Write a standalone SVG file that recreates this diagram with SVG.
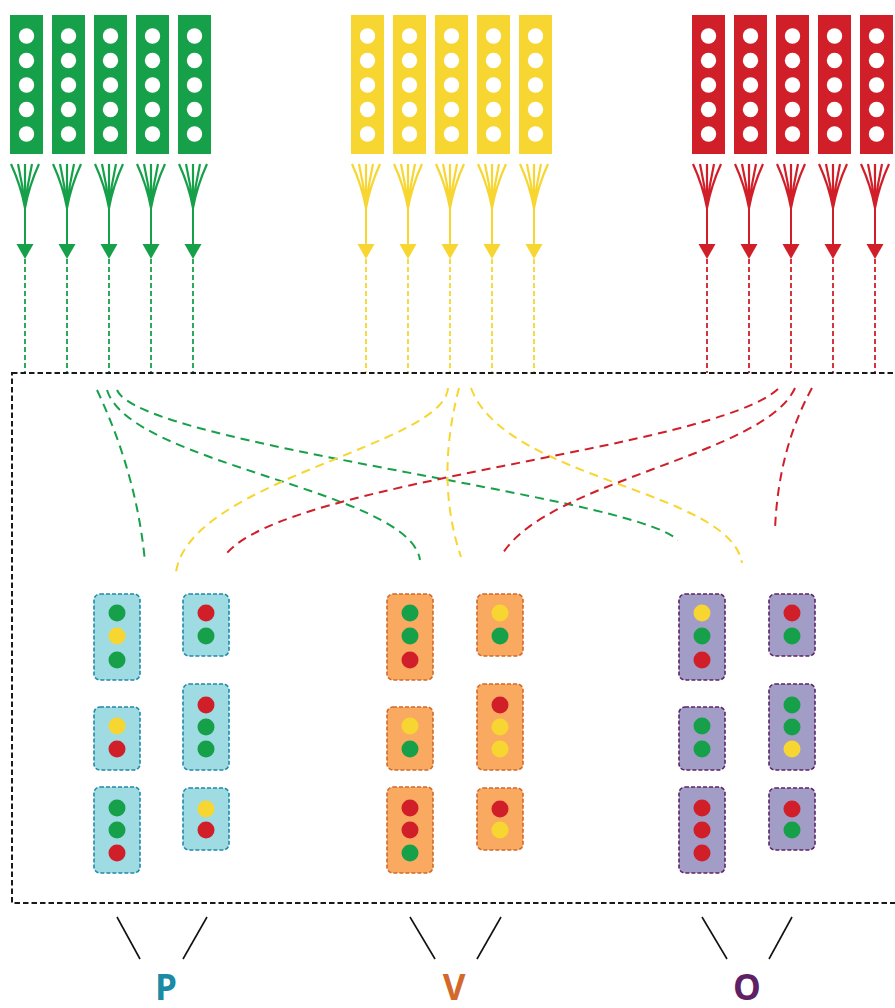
<svg xmlns="http://www.w3.org/2000/svg" xmlns:xlink="http://www.w3.org/1999/xlink" width="895" height="1008" viewBox="0 0 895 1008">
<style>
.colbody{fill:currentColor}
.hole{fill:#ffffff}
.fan{fill:none;stroke:currentColor;stroke-width:2.2}
.stem{stroke:currentColor;stroke-width:2}
.head{fill:currentColor}
.drop{stroke:currentColor;stroke-width:1.8;stroke-dasharray:5 3}
.g{color:#17a04a}
.y{color:#f7d631}
.r{color:#d11f2a}
.box{fill:none;stroke:#1a1a1a;stroke-width:2;stroke-dasharray:5.5 3}
.cv{fill:none;stroke-width:2;stroke-dasharray:9 6}
.cg{stroke:#17a04a}
.cy{stroke:#f7d631}
.cr{stroke:#d11f2a}
.nP{fill:#9edbe2;stroke:#1f8aa8;stroke-width:1.6;stroke-dasharray:4 2}
.nV{fill:#f9a960;stroke:#d2692a;stroke-width:1.6;stroke-dasharray:4 2}
.nO{fill:#a19dc6;stroke:#5c2468;stroke-width:1.6;stroke-dasharray:4 2}
.dg{fill:#17a04a}
.dy{fill:#f7d631}
.dr{fill:#d11f2a}
.tick{stroke:#111111;stroke-width:1.6}
.lbl{font-family:"Open Sans","Liberation Sans",sans-serif;font-weight:bold;font-size:35px;text-anchor:middle}
</style>
<defs>
<g id="col">
<rect class="colbody" x="-15" y="15" width="33" height="139"/>
<circle class="hole" cx="1.5" cy="36" r="7.7"/>
<circle class="hole" cx="1.5" cy="60.5" r="7.7"/>
<circle class="hole" cx="1.5" cy="85" r="7.7"/>
<circle class="hole" cx="1.5" cy="109.5" r="7.7"/>
<circle class="hole" cx="1.5" cy="134" r="7.7"/>
<path class="fan" d="M-14 164 Q-4 186 0 208 M-7 164 Q-2 186 0 208 M0 164 L0 208 M7 164 Q2 186 0 208 M14 164 Q4 186 0 208"/>
<line class="stem" x1="0" y1="206" x2="0" y2="247"/>
<polygon class="head" points="-8.5,244 8.5,244 0,259"/>
<line class="drop" x1="0" y1="259" x2="0" y2="373"/>
</g>
</defs>

<g id="sources">
<g id="g1" class="g"><use xlink:href="#col" x="25"/></g>
<g id="g2" class="g"><use xlink:href="#col" x="67"/></g>
<g id="g3" class="g"><use xlink:href="#col" x="109"/></g>
<g id="g4" class="g"><use xlink:href="#col" x="151"/></g>
<g id="g5" class="g"><use xlink:href="#col" x="193"/></g>
<g id="y1" class="y"><use xlink:href="#col" x="366"/></g>
<g id="y2" class="y"><use xlink:href="#col" x="408"/></g>
<g id="y3" class="y"><use xlink:href="#col" x="450"/></g>
<g id="y4" class="y"><use xlink:href="#col" x="492"/></g>
<g id="y5" class="y"><use xlink:href="#col" x="534"/></g>
<g id="r1" class="r"><use xlink:href="#col" x="707"/></g>
<g id="r2" class="r"><use xlink:href="#col" x="749"/></g>
<g id="r3" class="r"><use xlink:href="#col" x="791"/></g>
<g id="r4" class="r"><use xlink:href="#col" x="833"/></g>
<g id="r5" class="r"><use xlink:href="#col" x="875"/></g>
</g>

<g id="container">
<rect class="box" x="12" y="373" width="895" height="530"/>
</g>

<g id="connectors">
<path class="cv cg" d="M97 390 Q137 475 145 562"/>
<path class="cv cg" d="M107 390 C130 465 410 490 420 560"/>
<path class="cv cg" d="M117 390 C140 445 630 495 678 540"/>
<path class="cv cy" d="M448 388 C445 445 190 480 176 572"/>
<path class="cv cy" d="M459 388 Q435 480 461 557"/>
<path class="cv cy" d="M471 388 C505 480 730 490 742 563"/>
<path class="cv cr" d="M778 389 C710 450 290 480 227 553"/>
<path class="cv cr" d="M795 388 C765 455 550 480 503 553"/>
<path class="cv cr" d="M812 388 Q778 450 775 530"/>
</g>

<g id="P1"><rect class="nP" x="94" y="594" width="46" height="86" rx="6"/><circle class="dg" cx="117" cy="613" r="8.5"/><circle class="dy" cx="117" cy="636" r="8.5"/><circle class="dg" cx="117" cy="660" r="8.5"/></g>
<g id="P2"><rect class="nP" x="183" y="594" width="46" height="62" rx="6"/><circle class="dr" cx="206" cy="613" r="8.5"/><circle class="dg" cx="206" cy="636" r="8.5"/></g>
<g id="P3"><rect class="nP" x="94" y="707" width="46" height="63" rx="6"/><circle class="dy" cx="117" cy="726" r="8.5"/><circle class="dr" cx="117" cy="749" r="8.5"/></g>
<g id="P4"><rect class="nP" x="183" y="684" width="46" height="86" rx="6"/><circle class="dr" cx="206" cy="705" r="8.5"/><circle class="dg" cx="206" cy="727" r="8.5"/><circle class="dg" cx="206" cy="749" r="8.5"/></g>
<g id="P5"><rect class="nP" x="94" y="787" width="46" height="86" rx="6"/><circle class="dg" cx="117" cy="808" r="8.5"/><circle class="dg" cx="117" cy="830" r="8.5"/><circle class="dr" cx="117" cy="853" r="8.5"/></g>
<g id="P6"><rect class="nP" x="183" y="788" width="46" height="62" rx="6"/><circle class="dy" cx="206" cy="809" r="8.5"/><circle class="dr" cx="206" cy="830" r="8.5"/></g>

<g id="V1"><rect class="nV" x="387" y="594" width="46" height="86" rx="6"/><circle class="dg" cx="410" cy="613" r="8.5"/><circle class="dg" cx="410" cy="636" r="8.5"/><circle class="dr" cx="410" cy="660" r="8.5"/></g>
<g id="V2"><rect class="nV" x="477" y="594" width="46" height="62" rx="6"/><circle class="dy" cx="500" cy="613" r="8.5"/><circle class="dg" cx="500" cy="636" r="8.5"/></g>
<g id="V3"><rect class="nV" x="387" y="707" width="46" height="63" rx="6"/><circle class="dy" cx="410" cy="726" r="8.5"/><circle class="dg" cx="410" cy="749" r="8.5"/></g>
<g id="V4"><rect class="nV" x="477" y="684" width="46" height="86" rx="6"/><circle class="dr" cx="500" cy="705" r="8.5"/><circle class="dy" cx="500" cy="727" r="8.5"/><circle class="dy" cx="500" cy="749" r="8.5"/></g>
<g id="V5"><rect class="nV" x="387" y="787" width="46" height="86" rx="6"/><circle class="dr" cx="410" cy="808" r="8.5"/><circle class="dr" cx="410" cy="830" r="8.5"/><circle class="dg" cx="410" cy="853" r="8.5"/></g>
<g id="V6"><rect class="nV" x="477" y="788" width="46" height="62" rx="6"/><circle class="dr" cx="500" cy="809" r="8.5"/><circle class="dy" cx="500" cy="830" r="8.5"/></g>

<g id="O1"><rect class="nO" x="679" y="594" width="46" height="86" rx="6"/><circle class="dy" cx="702" cy="613" r="8.5"/><circle class="dg" cx="702" cy="636" r="8.5"/><circle class="dr" cx="702" cy="660" r="8.5"/></g>
<g id="O2"><rect class="nO" x="769" y="594" width="46" height="62" rx="6"/><circle class="dr" cx="792" cy="613" r="8.5"/><circle class="dg" cx="792" cy="636" r="8.5"/></g>
<g id="O3"><rect class="nO" x="679" y="707" width="46" height="63" rx="6"/><circle class="dg" cx="702" cy="726" r="8.5"/><circle class="dg" cx="702" cy="749" r="8.5"/></g>
<g id="O4"><rect class="nO" x="769" y="684" width="46" height="86" rx="6"/><circle class="dg" cx="792" cy="705" r="8.5"/><circle class="dg" cx="792" cy="727" r="8.5"/><circle class="dy" cx="792" cy="749" r="8.5"/></g>
<g id="O5"><rect class="nO" x="679" y="787" width="46" height="86" rx="6"/><circle class="dr" cx="702" cy="808" r="8.5"/><circle class="dr" cx="702" cy="830" r="8.5"/><circle class="dr" cx="702" cy="853" r="8.5"/></g>
<g id="O6"><rect class="nO" x="769" y="788" width="46" height="62" rx="6"/><circle class="dr" cx="792" cy="809" r="8.5"/><circle class="dg" cx="792" cy="830" r="8.5"/></g>

<g id="labels">
<line class="tick" x1="117" y1="917" x2="140" y2="959"/>
<line class="tick" x1="207" y1="917" x2="183" y2="959"/>
<line class="tick" x1="410" y1="917" x2="435" y2="959"/>
<line class="tick" x1="501" y1="917" x2="477" y2="959"/>
<line class="tick" x1="702" y1="917" x2="727" y2="959"/>
<line class="tick" x1="792" y1="917" x2="769" y2="959"/>
<text class="lbl" x="166" y="1000" fill="#1b8aa5">P</text>
<text class="lbl" x="454" y="1000" fill="#d2692a">V</text>
<text class="lbl" x="747" y="1000" fill="#5e2166">O</text>
</g>
</svg>
